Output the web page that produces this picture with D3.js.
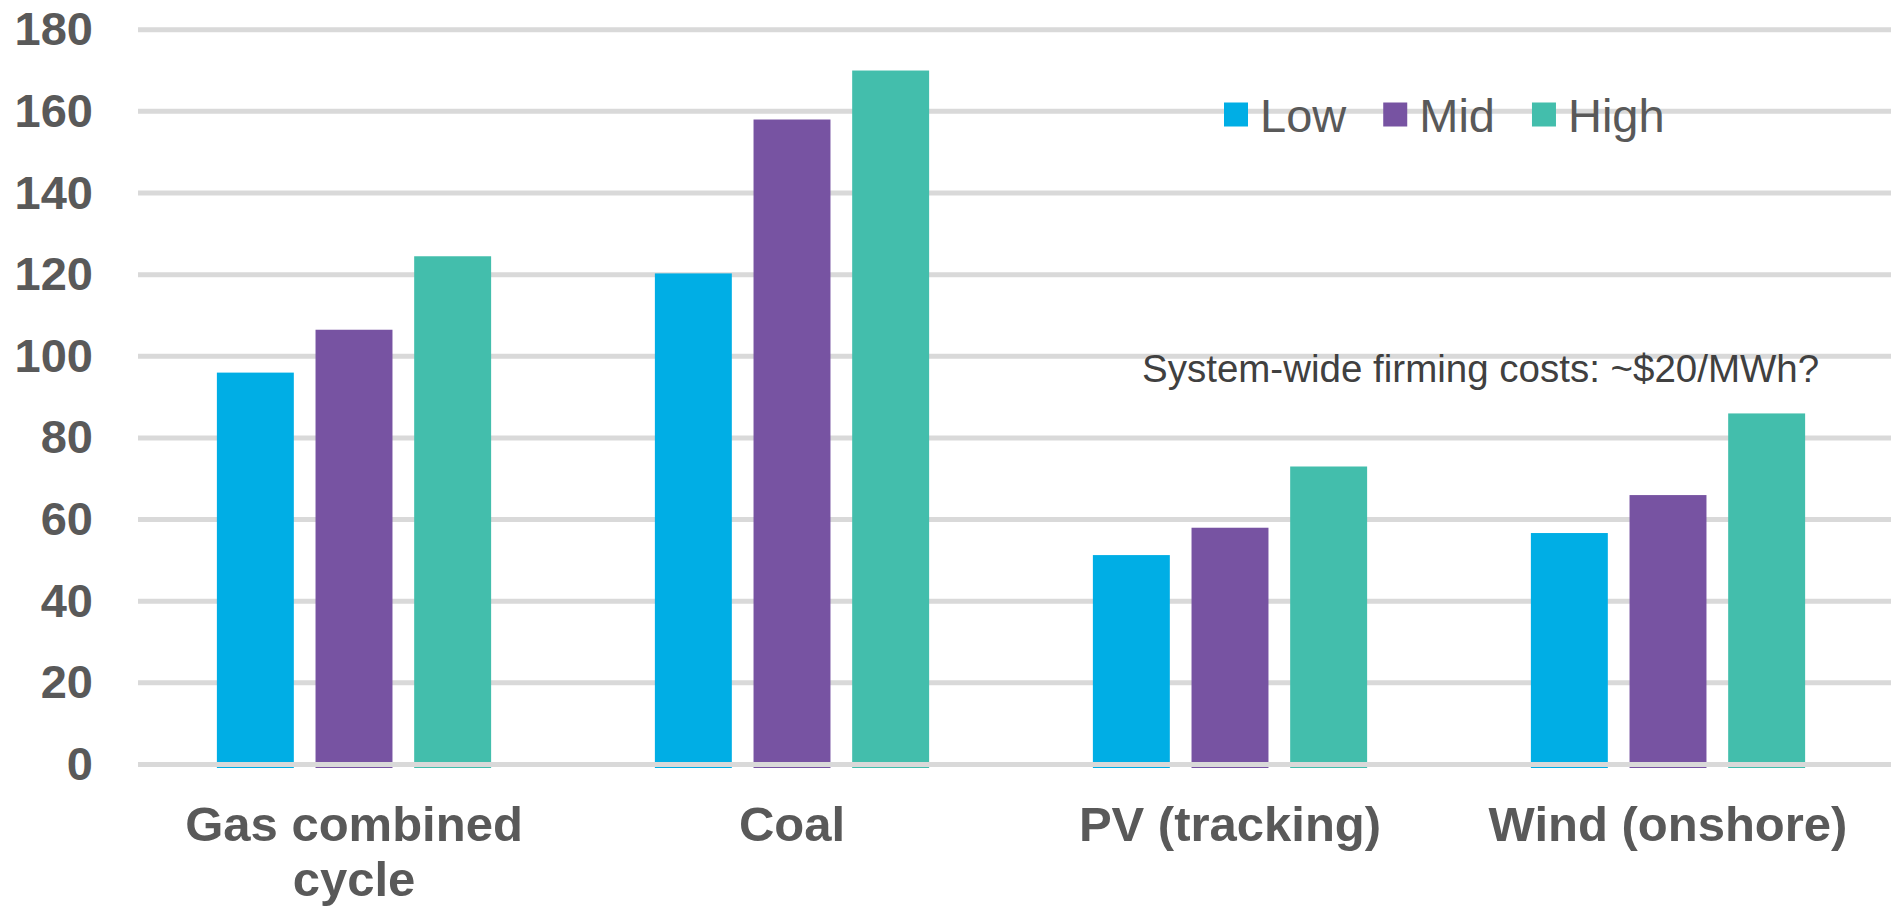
<!DOCTYPE html>
<html>
<head>
<meta charset="utf-8">
<script src="https://cdn.jsdelivr.net/npm/d3@7"></script>
<style>
  html, body { margin: 0; padding: 0; background: #ffffff; }
  svg { display: block; }
  text { font-family: "Liberation Sans", Arial, sans-serif; }
</style>
</head>
<body>
<svg id="chart" width="1898" height="907"></svg>
<script>
// Levelized cost ranges by technology ($/MWh)
const categories = [["Gas combined", "cycle"], ["Coal"], ["PV (tracking)"], ["Wind (onshore)"]];
const seriesNames = ["Low", "Mid", "High"];
const lowValues  = [96, 120.3, 51.3, 56.7];
const midValues  = [106.5, 158, 58, 66];
const highValues = [124.5, 170, 73, 86];
const yTicks = [0, 20, 40, 60, 80, 100, 120, 140, 160, 180];
const seriesColors = ["#00AEE5", "#7753A2", "#43BEAC"];
const note = "System-wide firming costs: ~$20/MWh?";

const seriesValues = [lowValues, midValues, highValues];
const catKeys = categories.map(c => c.join(" "));
const rows = catKeys.map((k, i) => ({
  key: k,
  values: seriesNames.map((s, j) => ({ series: s, value: seriesValues[j][i], color: seriesColors[j] }))
}));

const svg = d3.select("#chart");
const gridLeft = 138, gridRight = 1891;

const x0 = d3.scaleBand().domain(catKeys).range([135, 1887]).paddingInner(0).paddingOuter(0);
const x1 = d3.scaleBand().domain(seriesNames).range([0, x0.bandwidth()])
  .paddingInner(0.22).paddingOuter(0.83);
const y = d3.scaleLinear().domain([0, 180]).range([764.5, 29.7]);

// horizontal gridlines (except the baseline, drawn above the bars)
svg.append("g").selectAll("line")
  .data(yTicks.filter(t => t !== 0))
  .join("line")
  .attr("x1", gridLeft).attr("x2", gridRight)
  .attr("y1", d => y(d)).attr("y2", d => y(d))
  .attr("stroke", "#D9D9D9").attr("stroke-width", 5);

// y axis tick labels
const yAxis = d3.axisLeft(y).tickValues(yTicks).tickSize(0).tickPadding(0);
const yg = svg.append("g").attr("transform", "translate(93,0)").call(yAxis);
yg.select(".domain").remove();
yg.selectAll("text")
  .attr("x", 0).attr("dy", "0.32em")
  .attr("font-family", "'Liberation Sans', Arial, sans-serif")
  .attr("font-size", 47).attr("font-weight", "bold")
  .attr("fill", "#595959");

// bars
const barDrop = 3.5;
svg.append("g").selectAll("g")
  .data(rows)
  .join("g")
  .attr("transform", d => `translate(${x0(d.key)},0)`)
  .selectAll("rect")
  .data(d => d.values)
  .join("rect")
  .attr("x", d => x1(d.series))
  .attr("width", x1.bandwidth())
  .attr("y", d => y(d.value))
  .attr("height", d => y(0) - y(d.value) + barDrop)
  .attr("fill", d => d.color);

// baseline
svg.append("line")
  .attr("x1", gridLeft).attr("x2", gridRight)
  .attr("y1", y(0)).attr("y2", y(0))
  .attr("stroke", "#D9D9D9").attr("stroke-width", 5);

// category labels
const xl = svg.append("g").selectAll("text")
  .data(categories)
  .join("text")
  .attr("x", (d, i) => x0(catKeys[i]) + x0.bandwidth() / 2)
  .attr("y", 841)
  .attr("text-anchor", "middle")
  .attr("font-size", 49).attr("font-weight", "bold")
  .attr("fill", "#595959");
xl.selectAll("tspan")
  .data(d => d)
  .join("tspan")
  .attr("x", function() { return d3.select(this.parentNode).attr("x"); })
  .attr("dy", (d, i) => i === 0 ? 0 : 55)
  .text(d => d);

// legend
const legend = svg.append("g");
let lx = 1224;
seriesNames.forEach((s, i) => {
  legend.append("rect")
    .attr("x", lx).attr("y", 102.5)
    .attr("width", 24).attr("height", 24)
    .attr("fill", seriesColors[i]);
  const t = legend.append("text")
    .attr("x", lx + 36).attr("y", 131.5)
    .attr("font-size", 47)
    .attr("fill", "#595959")
    .text(s);
  lx += 36 + t.node().getComputedTextLength() + 37;
});

// annotation
svg.append("text")
  .attr("x", 1142).attr("y", 382)
  .attr("font-size", 38.5)
  .attr("fill", "#404040")
  .text(note);
</script>
</body>
</html>
